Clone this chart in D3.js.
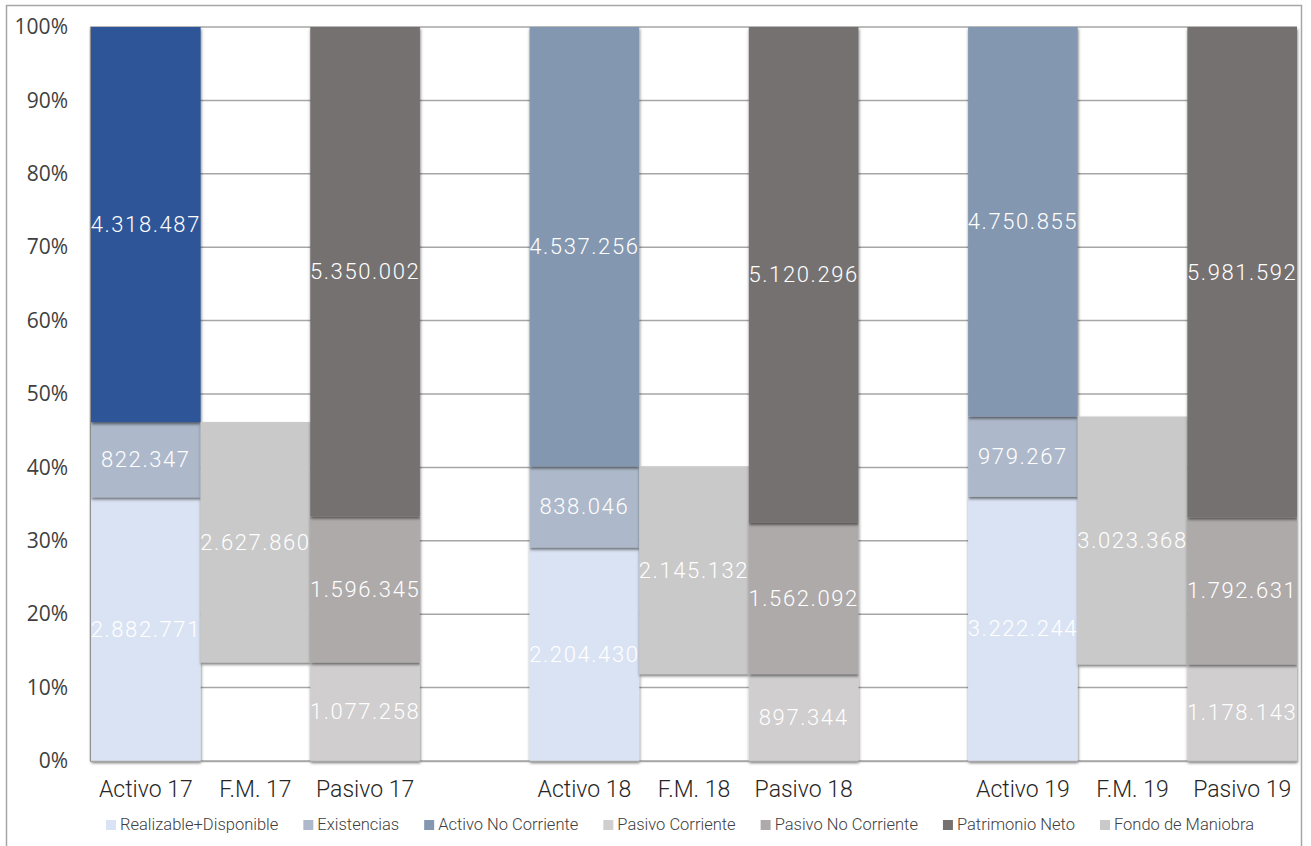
<!DOCTYPE html>
<html>
<head>
<meta charset="utf-8">
<script src="https://cdn.jsdelivr.net/npm/d3@7"></script>
<style>
  body { margin: 0; background: #fff; }
  svg { display: block; }
</style>
</head>
<body>
<svg id="board"></svg>
<script>
// valores por año
let years = ['17', '18', '19']
let realizable = [2882771, 2204430, 3222244]
let existencias = [822347, 838046, 979267]
let activoNoCorriente = [4318487, 4537256, 4750855]
let pasivoCorriente = [1077258, 897344, 1178143]
let pasivoNoCorriente = [1596345, 1562092, 1792631]
let patrimonioNeto = [5350002, 5120296, 5981592]
let fondoManiobra = [2627860, 2145132, 3023368]

let yTicks = [0, 0.1, 0.2, 0.3, 0.4, 0.5, 0.6, 0.7, 0.8, 0.9, 1]

let seriesNames = ['Realizable+Disponible', 'Existencias', 'Activo No Corriente',
                   'Pasivo Corriente', 'Pasivo No Corriente', 'Patrimonio Neto', 'Fondo de Maniobra']
let seriesColors = ['#dae3f3', '#adb9ca', '#8497b0', '#d0cece', '#aeaaaa', '#767171', '#c9c9c9']
let highlightColor = '#2f5597'   // Activo No Corriente del 17

let width = 1311
let height = 846

let board = d3.select('#board')
              .attr('width', width)
              .attr('height', height)

let locale = d3.formatLocale({decimal: ',', thousands: '.', grouping: [3], currency: ['', '']})
let fmt = locale.format(',d')

// columnas: Activo, F.M., Pasivo y un hueco entre años
let columns = []
years.forEach((yr, i) => {
    columns.push({key: 'Activo ' + yr, label: 'Activo ' + yr, type: 'activo', i: i})
    columns.push({key: 'F.M. ' + yr, label: 'F.M. ' + yr, type: 'fm', i: i})
    columns.push({key: 'Pasivo ' + yr, label: 'Pasivo ' + yr, type: 'pasivo', i: i})
    if (i < years.length - 1) columns.push({key: 'gap' + i, label: '', type: 'gap', i: i})
})

let segments = []
columns.forEach((c) => {
    let i = c.i
    let total = realizable[i] + existencias[i] + activoNoCorriente[i]
    let parts = []
    if (c.type == 'activo') {
        parts = [[0, realizable[i]], [1, existencias[i]], [2, activoNoCorriente[i]]]
    } else if (c.type == 'pasivo') {
        parts = [[3, pasivoCorriente[i]], [4, pasivoNoCorriente[i]], [5, patrimonioNeto[i]]]
    } else if (c.type == 'fm') {
        // base invisible = pasivo corriente
        parts = [[-1, pasivoCorriente[i]], [6, fondoManiobra[i]]]
    }
    let acc = 0
    parts.forEach((p) => {
        let s = {col: c.key, series: p[0], value: p[1], y0: acc / total, y1: (acc + p[1]) / total}
        acc += p[1]
        if (p[0] >= 0) segments.push(s)
    })
})

let xScale = d3.scaleBand()
               .domain(columns.map((c) => c.key))
               .range([91, 1297])
               .padding(0)

let yScale = d3.scaleLinear()
               .domain([0, 1])
               .range([761, 27])

// sombra
let defs = board.append('defs')
defs.append('filter')
    .attr('id', 'shadow')
    .attr('x', '-10%').attr('y', '-10%')
    .attr('width', '120%').attr('height', '120%')
    .append('feDropShadow')
    .attr('dx', 0.5).attr('dy', 2)
    .attr('stdDeviation', 1.8)
    .attr('flood-color', '#000')
    .attr('flood-opacity', 0.55)

// borde del gráfico
board.append('rect')
     .attr('x', 6.5).attr('y', 5.5)
     .attr('width', 1295).attr('height', 850)
     .attr('fill', 'none')
     .attr('stroke', '#a6a6a6')
     .attr('stroke-width', 1.5)

// líneas de cuadrícula
board.append('g')
     .selectAll('line')
     .data(yTicks)
     .enter()
     .append('line')
     .attr('x1', 90)
     .attr('x2', 1297)
     .attr('y1', (d) => yScale(d))
     .attr('y2', (d) => yScale(d))
     .attr('stroke', '#a6a6a6')
     .attr('stroke-width', 1.5)

board.append('line')
     .attr('x1', 90.5).attr('x2', 90.5)
     .attr('y1', yScale(1)).attr('y2', yScale(0))
     .attr('stroke', '#a6a6a6')
     .attr('stroke-width', 1.5)

// barras
board.append('g')
     .selectAll('rect')
     .data(segments)
     .enter()
     .append('rect')
     .attr('x', (d) => xScale(d.col))
     .attr('width', xScale.bandwidth())
     .attr('y', (d) => yScale(d.y1))
     .attr('height', (d) => yScale(d.y0) - yScale(d.y1))
     .attr('fill', (d) => (d.series == 2 && d.col == 'Activo 17') ? highlightColor : seriesColors[d.series])
     .attr('filter', 'url(#shadow)')

// etiquetas de datos
board.append('g')
     .selectAll('text')
     .data(segments)
     .enter()
     .append('text')
     .attr('x', (d) => xScale(d.col) + xScale.bandwidth() / 2)
     .attr('y', (d) => (yScale(d.y0) + yScale(d.y1)) / 2)
     .attr('text-anchor', 'middle')
     .attr('dominant-baseline', 'central')
     .attr('fill', '#fff')
     .style('font-family', 'Roboto, sans-serif')
     .style('font-weight', 300)
     .style('font-size', '22px')
     .style('letter-spacing', '1.6px')
     .text((d) => fmt(d.value))

// eje Y
let yAxis = d3.axisLeft(yScale)
              .tickValues(yTicks)
              .tickFormat(d3.format('.0%'))
              .tickSize(0)
              .tickPadding(22)
let yG = board.append('g')
              .attr('transform', 'translate(90,0)')
              .call(yAxis)
yG.select('.domain').remove()
yG.selectAll('text')
  .attr('fill', '#404040')
  .style('font-family', '"Open Sans", sans-serif')
  .style('font-size', '21px')

// eje X
let xAxis = d3.axisBottom(xScale)
              .tickFormat((k) => columns.find((c) => c.key == k).label)
              .tickSize(0)
              .tickPadding(20)
let xG = board.append('g')
              .attr('transform', 'translate(0,761)')
              .call(xAxis)
xG.select('.domain')
  .attr('stroke', '#a6a6a6')
  .attr('stroke-width', 1.5)
xG.selectAll('text')
  .attr('fill', '#262626')
  .style('font-family', 'Roboto, sans-serif')
  .style('font-weight', 300)
  .style('font-size', '23px')

// leyenda
let legend = board.append('g')
let lx = 0
let gap = 25
seriesNames.forEach((name, i) => {
    let item = legend.append('g').attr('transform', 'translate(' + lx + ',0)')
    item.append('rect')
        .attr('x', 0).attr('y', -10)
        .attr('width', 10).attr('height', 10)
        .attr('fill', seriesColors[i])
    let t = item.append('text')
        .attr('x', 14).attr('y', 0)
        .attr('fill', '#404040')
        .style('font-family', 'Roboto, sans-serif')
        .style('font-weight', 300)
        .style('font-size', '16.5px')
        .text(name)
    lx += 14 + t.node().getComputedTextLength() + gap
})
let legendW = lx - gap
legend.attr('transform', 'translate(' + (680 - legendW / 2) + ',830)')
</script>
</body>
</html>
